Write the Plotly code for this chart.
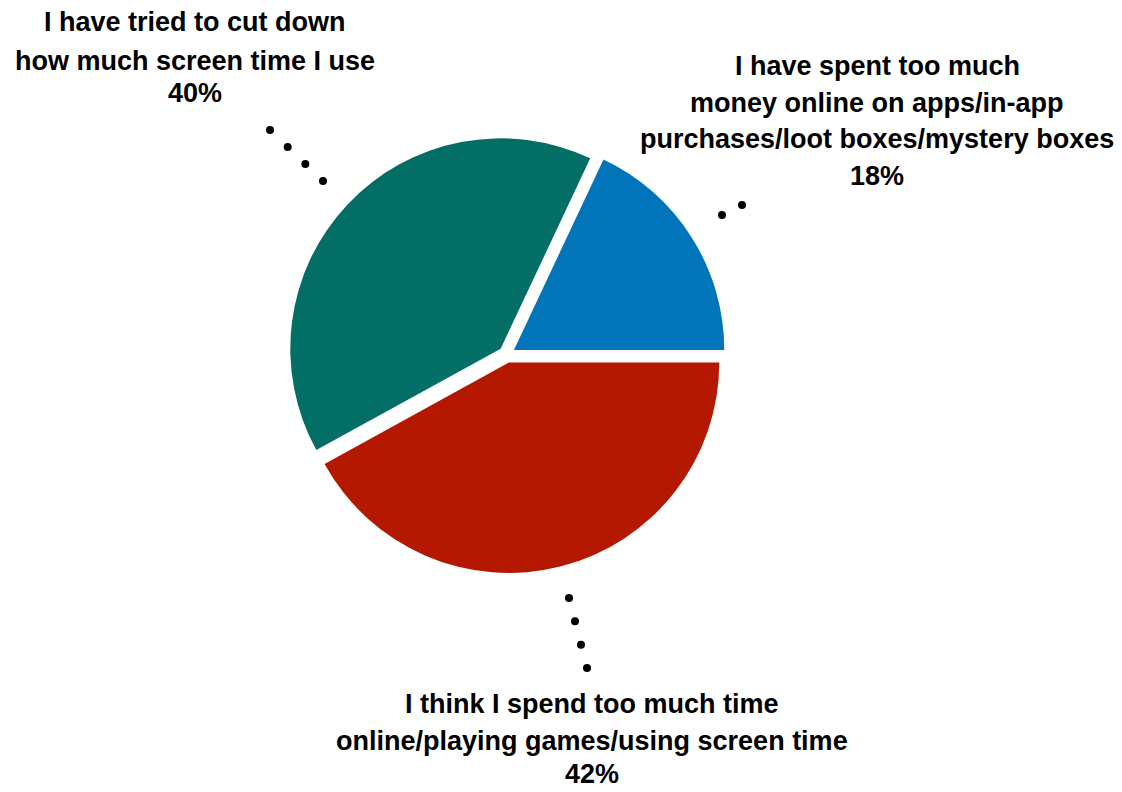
import plotly.graph_objects as go
import numpy as np

labels = [
    "I think I spend too much time\nonline/playing games/using screen time",
    "I have tried to cut down\nhow much screen time I use",
    "I have spent too much\nmoney online on apps/in-app\npurchases/loot boxes/mystery boxes",
]
values = [42, 40, 18]
colors = ["#B51800", "#036E65", "#0275BA"]

FONT = "Liberation Sans, Arial, sans-serif"
W, H = 1122, 792

fig = go.Figure(go.Pie(
    labels=[l.replace("\n", " ") for l in labels], values=values, sort=False,
    direction="clockwise", rotation=90,
    marker=dict(colors=colors, line=dict(width=0)),
    pull=[0.04, 0.04, 0.04], textinfo="none", hoverinfo="label+percent",
    domain=dict(x=[0.2567, 0.6467], y=[0.276, 0.829]), showlegend=False,
))

# label blocks: centre x (px) and cap-centre y (px) of each line
label_x = [592, 195, 877]
label_y = [[704, 741, 774], [22, 61, 93], [66, 103, 139, 176]]
anns = []
for lab, v, cx, ys in zip(labels, values, label_x, label_y):
    lines = lab.split("\n") + [f"{v}%"]
    for line, cy in zip(lines, ys):
        anns.append(dict(text=f"<b>{line}</b>", x=cx / W, y=1 - cy / H,
                         xref="paper", yref="paper", showarrow=False,
                         xanchor="center", yanchor="middle",
                         font=dict(family=FONT, size=27, color="black")))

# dotted leader lines (decoration)
leaders = [((569, 598), (587, 668), 4), ((270, 130), (323, 181), 4), ((722, 215), (742, 205), 2)]
shapes = []
for (x0, y0), (x1, y1), n in leaders:
    for px, py in zip(np.linspace(x0, x1, n), np.linspace(y0, y1, n)):
        r = 4
        shapes.append(dict(type="circle", xref="paper", yref="paper",
                           x0=(px - r) / W, x1=(px + r) / W,
                           y0=1 - (py + r) / H, y1=1 - (py - r) / H,
                           fillcolor="black", line=dict(width=0)))

fig.update_layout(width=W, height=H, margin=dict(l=0, r=0, t=0, b=0),
                  paper_bgcolor="white", plot_bgcolor="white",
                  annotations=anns, shapes=shapes)
fig.write_html("out.html", config={"displayModeBar": False},
               post_script="document.body.style.margin='0';")
